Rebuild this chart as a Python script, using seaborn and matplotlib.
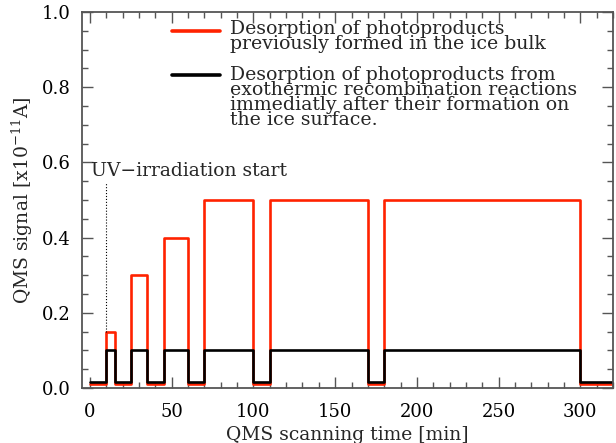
import matplotlib
matplotlib.use('Agg')
import matplotlib.pyplot as plt
import pandas as pd
import seaborn as sns
from matplotlib.ticker import MultipleLocator

# step edges (min) and signal levels (x10^-11 A)
times = [0, 10, 15, 25, 35, 45, 60, 70, 100, 110, 170, 180, 300, 320]
bulk = [0.01, 0.15, 0.01, 0.30, 0.01, 0.40, 0.01, 0.50, 0.01, 0.50, 0.01,
        0.50, 0.01, 0.01]
surface = [0.015, 0.10, 0.015, 0.10, 0.015, 0.10, 0.015, 0.10, 0.015, 0.10,
           0.015, 0.10, 0.015, 0.015]
uv_start = 10

label_bulk = 'Desorption of photoproducts\npreviously formed in the ice bulk'
label_surf = ('Desorption of photoproducts from\n'
              'exothermic recombination reactions\n'
              'immediatly after their formation on\n'
              'the ice surface.')

df = pd.DataFrame({'time': times, 'bulk': bulk, 'surface': surface})

sns.set_theme(style='ticks')
plt.rcParams['font.family'] = ['DejaVu Serif']
plt.rcParams['mathtext.fontset'] = 'dejavuserif'
edge = '#555555'
red = '#ff2200'

fig = plt.figure(figsize=(6.16, 4.43), dpi=100)
ax = fig.add_axes([0.133, 0.124, 0.862, 0.849])

sns.lineplot(data=df, x='time', y='bulk', ax=ax, color=red,
             linewidth=1.9, drawstyle='steps-post', legend=False)
sns.lineplot(data=df, x='time', y='surface', ax=ax, color='black',
             linewidth=1.9, drawstyle='steps-post', legend=False)

# UV start marker
ax.plot([uv_start, uv_start], [0.15, 0.545], color='black', linestyle=':',
        linewidth=0.8)
ax.text(0.5, 0.553, 'UV\u2212irradiation start', fontsize=13.5,
        ha='left', va='bottom')

# legend drawn by hand so the line sits at the first text line
for col, ly, ty, txt in [(red, 0.949, 0.978, label_bulk),
                         ('black', 0.832, 0.856, label_surf)]:
    ax.plot([0.169, 0.260], [ly, ly], color=col, linewidth=2.6,
            transform=ax.transAxes)
    ax.text(0.279, ty, txt, transform=ax.transAxes, fontsize=13.6,
            ha='left', va='top', linespacing=0.78)

ax.set_xlim(-5, 320)
ax.set_ylim(0, 1.0)
ax.xaxis.set_major_locator(MultipleLocator(50))
ax.xaxis.set_minor_locator(MultipleLocator(10))
ax.yaxis.set_major_locator(MultipleLocator(0.2))
ax.yaxis.set_minor_locator(MultipleLocator(0.05))
ax.yaxis.set_major_formatter(plt.FormatStrFormatter('%.1f'))
ax.tick_params(which='both', direction='in', top=True, right=True,
               color=edge, labelsize=13, labelcolor='black')
ax.tick_params(which='major', length=8, width=1, pad=8)
ax.tick_params(axis='x', which='major', pad=11)
ax.tick_params(which='minor', length=4.5, width=1)
for s in ax.spines.values():
    s.set_color(edge)
    s.set_linewidth(1.3)

ax.set_xlabel('QMS scanning time [min]', fontsize=13.5, labelpad=3)
ax.set_ylabel('QMS signal [x10$^{-11}$A]', fontsize=13.5, labelpad=5)

plt.savefig('out.png', dpi=100)
